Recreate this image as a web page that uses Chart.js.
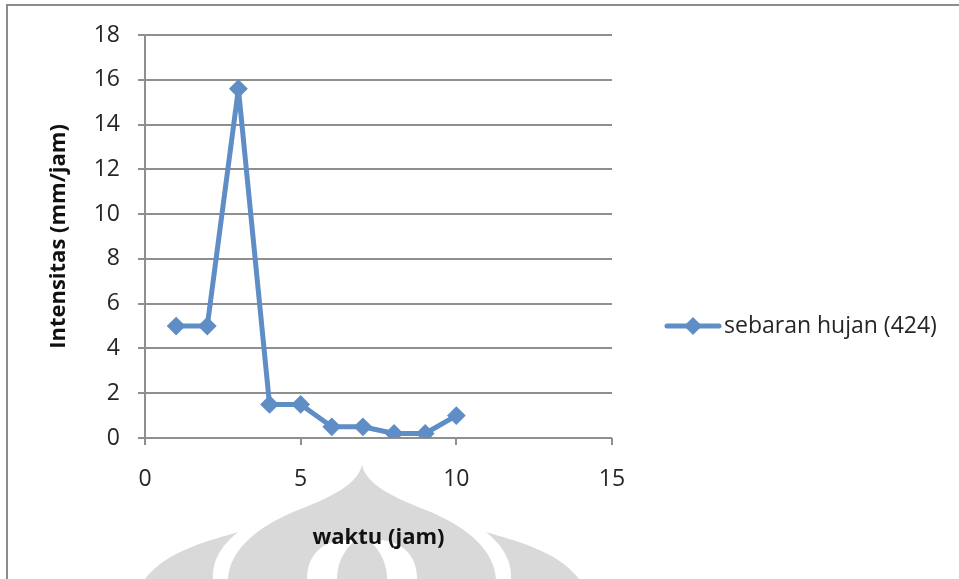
<!DOCTYPE html>
<html>
<head>
<meta charset="utf-8">
<script src="https://cdn.jsdelivr.net/npm/chart.js@4/dist/chart.umd.min.js"></script>
<style>
  html, body { margin: 0; padding: 0; background: #ffffff; }
  #wrap { position: relative; width: 959px; height: 579px; }
</style>
</head>
<body>
<div id="wrap"><canvas id="c" width="959" height="579"></canvas></div>
<script>
// Rainfall intensity per hour
const hours = [1, 2, 3, 4, 5, 6, 7, 8, 9, 10];
const intensity = [5, 5, 15.6, 1.5, 1.5, 0.5, 0.5, 0.2, 0.2, 1.0];
const seriesName = 'sebaran hujan (424)';
const xTitle = 'waktu (jam)';
const yTitle = 'Intensitas (mm/jam)';
const xRange = [0, 15, 5];
const yRange = [0, 18, 2];

const lineColor = '#5f8dc6';
const gridColor = '#8f8f8f';
const textColor = '#262626';
const fontFamily = '"Open Sans", "Noto Sans", sans-serif';

// Outer frame and faint emblem behind the chart
const backdrop = {
  id: 'backdrop',
  beforeDraw(chart) {
    const ctx = chart.ctx;
    ctx.save();
    ctx.fillStyle = '#ffffff';
    ctx.fillRect(0, 0, chart.width, chart.height);

    // emblem
    const cx = 362;
    ctx.fillStyle = '#d9d9d9';
    // central dome
    ctx.beginPath();
    ctx.moveTo(cx, 465);
    ctx.bezierCurveTo(cx - 5, 485, cx - 30, 497, cx - 69, 512);
    ctx.bezierCurveTo(cx - 110, 530, cx - 132, 552, cx - 134, 579);
    ctx.lineTo(cx + 134, 579);
    ctx.bezierCurveTo(cx + 132, 552, cx + 110, 530, cx + 69, 512);
    ctx.bezierCurveTo(cx + 30, 497, cx + 5, 485, cx, 465);
    ctx.closePath();
    ctx.fill();
    // white inner arch
    ctx.fillStyle = '#ffffff';
    ctx.beginPath();
    ctx.moveTo(cx - 55, 579);
    ctx.bezierCurveTo(cx - 55, 560, cx - 45, 543, cx - 20, 540);
    ctx.lineTo(cx + 20, 540);
    ctx.bezierCurveTo(cx + 45, 543, cx + 55, 560, cx + 55, 579);
    ctx.closePath();
    ctx.fill();
    // central petal inside the arch
    ctx.fillStyle = '#d9d9d9';
    ctx.beginPath();
    ctx.moveTo(cx - 25, 579);
    ctx.bezierCurveTo(cx - 25, 560, cx - 15, 545, cx, 535);
    ctx.bezierCurveTo(cx + 15, 545, cx + 25, 560, cx + 25, 579);
    ctx.closePath();
    ctx.fill();
    // side petals
    [-1, 1].forEach(s => {
      ctx.beginPath();
      ctx.moveTo(cx + s * 124, 532);
      ctx.bezierCurveTo(cx + s * 150, 540, cx + s * 195, 550, cx + s * 217, 579);
      ctx.lineTo(cx + s * 149, 579);
      ctx.bezierCurveTo(cx + s * 150, 560, cx + s * 140, 545, cx + s * 124, 532);
      ctx.closePath();
      ctx.fill();
    });

    // frame
    ctx.strokeStyle = '#8c8c8c';
    ctx.lineWidth = 2;
    ctx.beginPath();
    ctx.moveTo(7, chart.height + 5);
    ctx.lineTo(7, 5);
    ctx.lineTo(chart.width + 5, 5);
    ctx.stroke();
    ctx.restore();
  }
};

// Legend entry at the right of the plot
const sideLegend = {
  id: 'sideLegend',
  afterDraw(chart) {
    const ctx = chart.ctx;
    const ds = chart.data.datasets[0];
    const y = 326;
    ctx.save();
    ctx.strokeStyle = ds.borderColor;
    ctx.lineWidth = ds.borderWidth;
    ctx.lineCap = 'round';
    ctx.beginPath();
    ctx.moveTo(667, y);
    ctx.lineTo(719, y);
    ctx.stroke();
    ctx.fillStyle = ds.pointBackgroundColor;
    ctx.beginPath();
    ctx.moveTo(693 - 9, y);
    ctx.lineTo(693, y - 9);
    ctx.lineTo(693 + 9, y);
    ctx.lineTo(693, y + 9);
    ctx.closePath();
    ctx.fill();
    ctx.fillStyle = textColor;
    ctx.font = '23px ' + fontFamily;
    ctx.textBaseline = 'middle';
    ctx.textAlign = 'left';
    ctx.fillText(ds.label, 724, y);
    ctx.restore();
  }
};

new Chart(document.getElementById('c'), {
  type: 'line',
  data: {
    datasets: [{
      label: seriesName,
      data: hours.map((h, i) => ({ x: h, y: intensity[i] })),
      borderColor: lineColor,
      backgroundColor: lineColor,
      pointBackgroundColor: lineColor,
      pointBorderColor: lineColor,
      borderWidth: 5,
      borderJoinStyle: 'round',
      borderCapStyle: 'round',
      pointStyle: 'rectRot',
      pointRadius: 8,
      pointBorderWidth: 2,
      tension: 0,
      fill: false
    }]
  },
  options: {
    responsive: false,
    animation: false,
    devicePixelRatio: 1,
    layout: { padding: { left: 0, right: 347, top: 35, bottom: 0 } },
    plugins: {
      legend: { display: false },
      tooltip: { enabled: false }
    },
    scales: {
      x: {
        type: 'linear',
        min: xRange[0], max: xRange[1],
        afterFit(scale) { scale.height = 141; },
        ticks: {
          stepSize: xRange[2],
          color: textColor,
          padding: 21,
          maxRotation: 0,
          font: { family: fontFamily, size: 23 }
        },
        grid: {
          drawOnChartArea: false,
          drawTicks: true,
          tickLength: 7,
          color: gridColor,
          lineWidth: 2
        },
        border: { display: false },
        title: {
          display: true,
          text: xTitle,
          color: '#111111',
          font: { family: fontFamily, size: 22, weight: 'bold' },
          padding: { top: 0, bottom: 28 }
        }
      },
      y: {
        type: 'linear',
        min: yRange[0], max: yRange[1],
        afterFit(scale) { scale.width = 145; },
        ticks: {
          stepSize: yRange[2],
          color: textColor,
          padding: 18,
          font: { family: fontFamily, size: 23 }
        },
        grid: {
          color: gridColor,
          lineWidth: 2,
          drawTicks: true,
          tickLength: 7
        },
        border: { display: true, color: gridColor, width: 2 },
        title: {
          display: true,
          text: yTitle,
          color: '#111111',
          font: { family: fontFamily, size: 22, weight: 'bold' },
          padding: { top: 46, bottom: 0 }
        }
      }
    }
  },
  plugins: [backdrop, sideLegend]
});
</script>
</body>
</html>
